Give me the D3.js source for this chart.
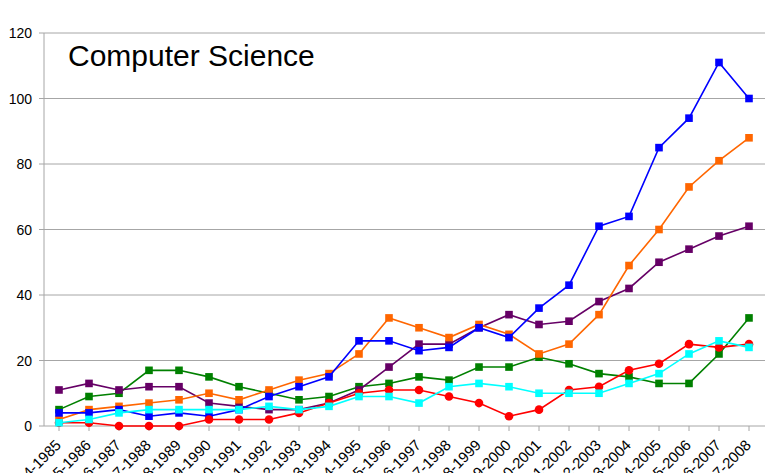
<!DOCTYPE html>
<html lang="en">
<head>
<meta charset="UTF-8">
<title>Computer Science</title>
<style>
  body { margin: 0; overflow: hidden; background: #fff; }
  svg  { display: block; }
  text { font-family: "Liberation Sans", Arial, sans-serif; fill: #000; }
</style>
</head>
<body>
<svg id="chart" width="765" height="473"></svg>

<script src="https://d3js.org/d3.v7.min.js"></script>
<script>
/* ---------------- Data ---------------- */
const years = [
  '1984-1985','1985-1986','1986-1987','1987-1988','1988-1989','1989-1990',
  '1990-1991','1991-1992','1992-1993','1993-1994','1994-1995','1995-1996',
  '1996-1997','1997-1998','1998-1999','1999-2000','2000-2001','2001-2002',
  '2002-2003','2003-2004','2004-2005','2005-2006','2006-2007','2007-2008'
];
const greenVals  = [5, 9, 10, 17, 17, 15, 12, 10, 8, 9, 12, 13, 15, 14, 18, 18, 21, 19, 16, 15, 13, 13, 22, 33];
const purpleVals = [11, 13, 11, 12, 12, 7, 6, 5, 5, 7, 11, 18, 25, 25, 30, 34, 31, 32, 38, 42, 50, 54, 58, 61];
const orangeVals = [2, 5, 6, 7, 8, 10, 8, 11, 14, 16, 22, 33, 30, 27, 31, 28, 22, 25, 34, 49, 60, 73, 81, 88];
const blueVals   = [4, 4, 5, 3, 4, 3, 5, 9, 12, 15, 26, 26, 23, 24, 30, 27, 36, 43, 61, 64, 85, 94, 111, 100];
const redVals    = [1, 1, 0, 0, 0, 2, 2, 2, 4, 7, 10, 11, 11, 9, 7, 3, 5, 11, 12, 17, 19, 25, 24, 25];
const cyanVals   = [1, 2, 4, 5, 5, 5, 5, 6, 5, 6, 9, 9, 7, 12, 13, 12, 10, 10, 10, 13, 16, 22, 26, 24];
const yTicks = [0, 20, 40, 60, 80, 100, 120];

const series = [
  { values: greenVals,  color: '#008000', shape: 'square' },
  { values: purpleVals, color: '#660066', shape: 'square' },
  { values: orangeVals, color: '#ff6600', shape: 'square' },
  { values: blueVals,   color: '#0000ff', shape: 'square' },
  { values: redVals,    color: '#ff0000', shape: 'circle' },
  { values: cyanVals,   color: '#00ffff', shape: 'square' }
];

/* ---------------- Layout ---------------- */
const plotL = 44, plotR = 764, plotT = 33, plotB = 426;
const svg = d3.select('#chart');

const x = d3.scaleBand().domain(years).range([plotL, plotR]);
const cx = d => x(d) + x.bandwidth() / 2;
const y = d3.scaleLinear().domain([0, 120]).range([plotB, plotT]);

// gridlines
svg.append('g')
  .selectAll('line')
  .data(yTicks)
  .join('line')
    .attr('x1', plotL - 5).attr('x2', 765)
    .attr('y1', d => y(d)).attr('y2', d => y(d))
    .attr('stroke', '#a6a6a6').attr('stroke-width', 1);

// y axis line
svg.append('line')
  .attr('x1', plotL).attr('x2', plotL)
  .attr('y1', plotT).attr('y2', plotB)
  .attr('stroke', '#a6a6a6');

// x tick marks
svg.append('g')
  .selectAll('line')
  .data(years)
  .join('line')
    .attr('x1', d => cx(d)).attr('x2', d => cx(d))
    .attr('y1', plotB).attr('y2', plotB + 5)
    .attr('stroke', '#a6a6a6');

// y labels
svg.append('g')
  .selectAll('text')
  .data(yTicks)
  .join('text')
    .attr('x', plotL - 12)
    .attr('y', d => y(d) + 5)
    .attr('text-anchor', 'end')
    .style('font-size', '14px')
    .text(d => d);

// x labels (cut off by the bottom edge, as in the original)
svg.append('g')
  .selectAll('text')
  .data(years)
  .join('text')
    .attr('transform', d => `translate(${cx(d) + 3},${plotB + 20}) rotate(-45)`)
    .attr('text-anchor', 'end')
    .style('font-size', '15px')
    .text(d => d);

// title
svg.append('text')
  .attr('x', 68).attr('y', 66)
  .style('font-size', '30px')
  .text('Computer Science');

/* ---------------- Series ---------------- */
const line = d3.line()
  .x((d, i) => cx(years[i]))
  .y(d => y(d));

series.forEach(s => {
  const g = svg.append('g');
  g.append('path')
    .attr('d', line(s.values))
    .attr('fill', 'none')
    .attr('stroke', s.color)
    .attr('stroke-width', 1.6);

  if (s.shape === 'circle') {
    g.selectAll('circle')
      .data(s.values)
      .join('circle')
        .attr('cx', (d, i) => cx(years[i]))
        .attr('cy', d => y(d))
        .attr('r', 4.3)
        .attr('fill', s.color);
  } else {
    g.selectAll('rect')
      .data(s.values)
      .join('rect')
        .attr('x', (d, i) => cx(years[i]) - 3.8)
        .attr('y', d => y(d) - 3.8)
        .attr('width', 7.6).attr('height', 7.6)
        .attr('fill', s.color);
  }
});
</script>
</body>
</html>
